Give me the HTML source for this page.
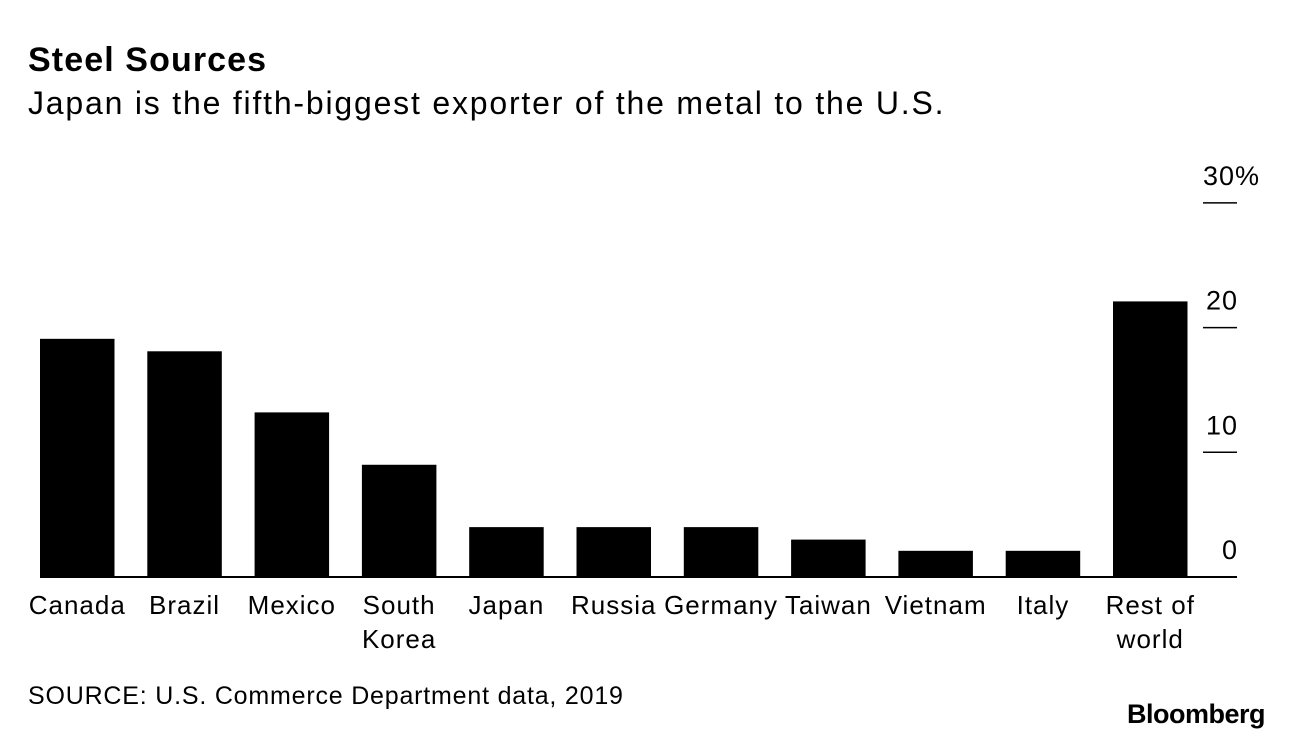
<!DOCTYPE html>
<html><head><meta charset="utf-8"><style>
body{margin:0;width:1292px;height:740px;background:#fff;font-family:"Liberation Sans",sans-serif;overflow:hidden;position:relative}
.t{position:absolute;white-space:nowrap;color:#000}
</style></head><body>
<div class="t" style="left:28px;top:41px;font-size:34px;font-weight:bold;letter-spacing:1.1px">Steel Sources</div>
<div class="t" style="left:28px;top:85px;font-size:32px;letter-spacing:1.8px">Japan is the fifth-biggest exporter of the metal to the U.S.</div>
<svg id="chart" width="1292" height="740" style="position:absolute;left:0;top:0" font-family="Liberation Sans, sans-serif"></svg>
<div class="t" style="left:28px;top:682px;font-size:25px;letter-spacing:0.8px">SOURCE: U.S. Commerce Department data, 2019</div>
<div class="t" style="right:27px;top:699px;font-size:27px;font-weight:bold;letter-spacing:-0.5px">Bloomberg</div>
<script>
const categories=[["Canada"],["Brazil"],["Mexico"],["South","Korea"],["Japan"],["Russia"],["Germany"],["Taiwan"],["Vietnam"],["Italy"],["Rest of","world"]];
const values=[19.1,18.1,13.2,9.0,4.0,4.0,4.0,3.0,2.1,2.1,22.1];
const ticks=[0,10,20,30];
const tickLabels=["0","10","20","30%"];
const svg=document.getElementById('chart');const NS='http://www.w3.org/2000/svg';
const y0=577,pxPer=12.47;
const y=v=>y0-v*pxPer;
const x=i=>40+i*107.3;
const bw=74.5;
function mk(t,a){const e=document.createElementNS(NS,t);for(const k in a)e.setAttribute(k,a[k]);svg.appendChild(e);return e;}
values.forEach((v,i)=>{
 const r=mk('rect',{x:x(i),y:y(v),width:bw,height:y0-y(v),fill:'#000'});
 
 
 categories[i].forEach((line,j)=>{
  const t=mk('text',{x:x(i)+bw/2,y:614+j*34,'font-size':26,'letter-spacing':1,'text-anchor':'middle',fill:'#000'});
  t.textContent=line;
  
  
 });
});
ticks.forEach((v,i)=>{
 const l=mk('line',{x1:1203,x2:1237,y1:y(v),y2:y(v),stroke:'#000','stroke-width':v===0?2:1.5});
 
 
 const last=i===ticks.length-1;
 const t=mk('text',{x:last?1203:1238,y:y(v)-18,'font-size':27,'letter-spacing':1,'text-anchor':last?'start':'end',fill:'#000'});
 t.textContent=tickLabels[i];
 
 
});
const base=mk('line',{x1:40,x2:1237,y1:y0,y2:y0,stroke:'#000','stroke-width':2});


</script>
</body></html>
